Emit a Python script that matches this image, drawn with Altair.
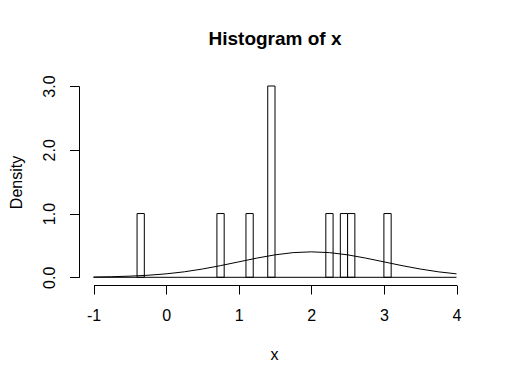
import altair as alt
import pandas as pd

# Histogram bins (density scale, bin width 0.1)
bin_left = [-0.4, 0.7, 1.1, 1.4, 2.2, 2.4, 2.5, 3.0]
bin_right = [-0.3, 0.8, 1.2, 1.5, 2.3, 2.5, 2.6, 3.1]
density = [1.0, 1.0, 1.0, 3.0, 1.0, 1.0, 1.0, 1.0]

# Overlaid curve, values
curve_x = [-1.0, -0.75, -0.5, -0.25, 0.0, 0.25, 0.5, 0.75, 1.0, 1.25, 1.5,
           1.75, 2.0, 2.25, 2.5, 2.75, 3.0, 3.25, 3.5, 3.75, 4.0]
curve_y = [0.004, 0.009, 0.018, 0.032, 0.054, 0.086, 0.130, 0.183, 0.242, 0.301, 0.352,
           0.387, 0.399, 0.387, 0.352, 0.301, 0.242, 0.183, 0.130, 0.086, 0.054]

# Baseline segment
base_x = [-1.0]
base_x2 = [4.0]
base_y = [0.0]

x_ticks = [-1, 0, 1, 2, 3, 4]
y_ticks = [0.0, 0.5, 1.0, 1.5, 2.0, 2.5, 3.0]

bars = pd.DataFrame({"left": bin_left, "right": bin_right, "density": density,
                     "zero": [0.0] * len(density)})
curve = pd.DataFrame({"x": curve_x, "y": curve_y})
base = pd.DataFrame({"x": base_x, "x2": base_x2, "y": base_y})

FONT = "Liberation Sans"

xscale = alt.Scale(domain=[-1, 4], range=[14.5, 377.5], nice=False, zero=False)
yscale = alt.Scale(domain=[0, 3], range=[199.3, 8], nice=False, zero=False)

xaxis = alt.Axis(values=x_ticks, labelExpr="'' + datum.value", grid=False,
                 domainColor="black", tickColor="black", tickSize=9,
                 labelFont=FONT, labelFontSize=16, labelColor="black",
                 labelBaseline="alphabetic", labelPadding=26, labelFlush=False,
                 labelOverlap=False, title="x", titleFont=FONT, titleFontSize=16,
                 titleFontWeight="normal", titleColor="black", titleX=195, titleY=74,
                 titleBaseline="alphabetic", titleAlign="center")
yaxis = alt.Axis(values=y_ticks,
                 labelExpr="datum.value % 1 === 0 ? format(datum.value, '.1f') : ''",
                 grid=False, domainColor="black", tickColor="black", tickSize=9.5,
                 labelFont=FONT, labelFontSize=16, labelColor="black", labelAngle=270,
                 labelAlign="center", labelBaseline="alphabetic", labelPadding=15,
                 labelFlush=False, labelOverlap=False,
                 title="Density", titleFont=FONT, titleFontSize=16,
                 titleFontWeight="normal", titleColor="black", titleAngle=270,
                 titleX=-62.5, titleY=104, titleAlign="center", titleBaseline="middle")

rects = alt.Chart(bars).mark_rect(fill="white", stroke="black", strokeWidth=1).encode(
    x=alt.X("left:Q", scale=xscale, axis=xaxis),
    x2="right:Q",
    y=alt.Y("zero:Q", scale=yscale, axis=yaxis),
    y2="density:Q",
)

line = alt.Chart(curve).mark_line(color="black", strokeWidth=1).encode(
    x=alt.X("x:Q", scale=xscale),
    y=alt.Y("y:Q", scale=yscale),
)

rule = alt.Chart(base).mark_rule(color="black", strokeWidth=1).encode(
    x=alt.X("x:Q", scale=xscale),
    x2="x2:Q",
    y=alt.Y("y:Q", scale=yscale),
)

chart = alt.layer(rects, line, rule).properties(
    width=392, height=207,
    title=alt.TitleParams("Histogram of x", font=FONT, fontSize=19, fontWeight="bold",
                          color="black", anchor="middle", baseline="alphabetic", offset=11),
    padding={"left": 71, "top": 70, "right": 30, "bottom": 90},
    autosize=alt.AutoSizeParams(type="none"),
).configure(background="white").configure_view(stroke=None, strokeWidth=0)

chart.save("out.html", embed_options={"renderer": "svg", "actions": False})
